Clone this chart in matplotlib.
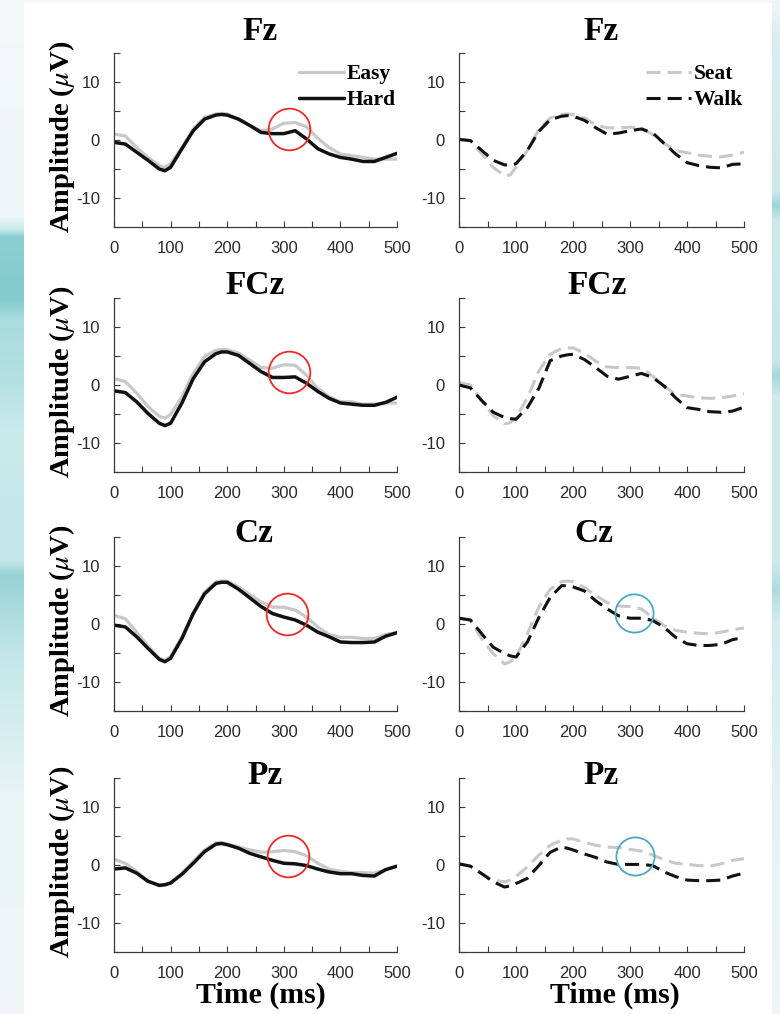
import numpy as np
import matplotlib
matplotlib.use("Agg")
import matplotlib.pyplot as plt
from matplotlib.colors import to_rgb

plt.rcParams["axes.unicode_minus"] = False
plt.rcParams["mathtext.fontset"] = "stix"

# ---------------------------------------------------------------- data
time_ms = [0, 20, 40, 60, 80, 90, 100, 120, 140, 160, 180, 190, 200, 220, 240,
           260, 280, 300, 320, 340, 360, 380, 400, 420, 440, 460, 480, 500]

channels = ["Fz", "FCz", "Cz", "Pz"]

# task difficulty (left column)
fz_easy = [1.0, 0.7, -1.3, -3.0, -4.4, -4.7, -4.1, -1.3, 1.9, 3.9, 4.5, 4.6, 4.5, 3.6,
           2.5, 1.6, 1.9, 2.9, 3.0, 2.3, 0.3, -1.3, -2.4, -2.7, -3.0, -3.3, -3.3, -3.3]
fz_hard = [-0.4, -0.7, -2.1, -3.5, -5.0, -5.3, -4.7, -1.5, 1.6, 3.6, 4.3, 4.4, 4.3, 3.6,
           2.5, 1.3, 1.1, 1.1, 1.6, 0.2, -1.5, -2.4, -3.0, -3.3, -3.7, -3.7, -3.0, -2.3]
fcz_easy = [1.1, 0.6, -1.4, -3.7, -5.4, -5.7, -5.1, -2.0, 2.0, 4.9, 6.0, 6.1, 6.1, 5.5,
            4.3, 3.0, 2.9, 3.5, 3.4, 1.7, -0.6, -2.0, -2.9, -2.9, -3.3, -3.3, -3.1, -3.1]
fcz_hard = [-1.0, -1.3, -2.9, -4.9, -6.6, -7.0, -6.6, -3.1, 1.1, 4.0, 5.4, 5.7, 5.7, 5.1,
            3.7, 2.3, 1.3, 1.3, 1.4, 0.3, -1.1, -2.3, -3.1, -3.3, -3.5, -3.5, -3.0, -2.1]
cz_easy = [1.5, 0.9, -1.4, -3.8, -5.9, -6.3, -5.6, -2.2, 2.0, 5.5, 7.3, 7.4, 7.4, 6.4,
           5.1, 3.8, 2.9, 2.9, 2.4, 1.2, -0.5, -1.8, -2.3, -2.3, -2.5, -2.5, -1.8, -1.5]
cz_hard = [-0.2, -0.5, -2.2, -4.2, -6.1, -6.5, -5.9, -2.5, 1.8, 5.2, 7.0, 7.2, 7.2, 6.0,
           4.5, 3.0, 1.8, 1.2, 0.7, -0.2, -1.4, -2.2, -3.1, -3.2, -3.2, -3.1, -2.1, -1.5]
pz_easy = [1.0, 0.3, -1.1, -2.8, -3.6, -3.5, -3.1, -1.4, 0.6, 2.6, 3.8, 3.9, 3.6, 3.1,
           2.6, 2.2, 2.3, 2.5, 2.3, 1.6, 0.3, -0.7, -1.1, -1.3, -1.3, -1.4, -0.8, -0.2]
pz_hard = [-0.7, -0.5, -1.4, -2.8, -3.5, -3.4, -3.1, -1.6, 0.3, 2.3, 3.6, 3.7, 3.5, 2.9,
           2.0, 1.4, 0.8, 0.3, 0.2, -0.1, -0.7, -1.2, -1.5, -1.5, -1.8, -1.9, -0.8, -0.2]

# walking condition (right column)
fz_seat = [0.1, -0.1, -2.4, -4.7, -6.2, -6.0, -4.7, -1.8, 1.8, 3.8, 4.4, 4.5, 4.4, 3.8,
           2.6, 2.1, 2.1, 2.2, 2.1, 0.9, -0.6, -1.8, -2.2, -2.6, -2.8, -2.9, -2.6, -2.1]
fz_walk = [0.1, -0.1, -1.8, -3.5, -4.3, -4.3, -4.1, -1.8, 1.5, 3.5, 4.1, 4.2, 4.1, 3.4,
           2.1, 1.0, 1.2, 1.6, 1.9, 1.2, -0.6, -2.4, -3.9, -4.4, -4.7, -4.8, -4.2, -4.1]
fcz_seat = [0.4, 0.0, -2.7, -5.3, -6.7, -6.5, -5.6, -2.2, 2.4, 5.3, 6.3, 6.4, 6.4, 5.5,
            4.1, 3.1, 3.0, 3.0, 2.9, 1.5, -0.2, -1.6, -1.9, -2.2, -2.3, -2.2, -1.9, -1.5]
fcz_walk = [0.0, -0.5, -2.7, -4.7, -5.6, -5.8, -5.9, -3.9, -0.6, 4.2, 5.0, 5.2, 5.3, 4.4,
            3.0, 1.5, 1.0, 1.5, 2.0, 1.3, -0.2, -2.2, -3.9, -4.2, -4.6, -4.7, -4.5, -3.8]
cz_seat = [1.0, 0.6, -2.6, -5.1, -6.9, -6.5, -5.7, -1.7, 2.9, 6.0, 7.3, 7.4, 7.3, 6.3,
           4.9, 3.7, 3.1, 3.0, 2.6, 1.1, -0.3, -1.1, -1.4, -1.6, -1.7, -1.4, -1.0, -0.7]
cz_walk = [1.0, 0.7, -1.7, -4.0, -5.1, -5.5, -5.7, -3.1, 1.1, 4.6, 6.6, 6.6, 6.4, 5.7,
           4.0, 2.6, 1.4, 1.0, 1.0, 0.6, -0.6, -2.3, -3.4, -3.7, -3.7, -3.5, -2.7, -2.3]
pz_seat = [0.2, -0.2, -1.5, -2.6, -2.9, -2.6, -2.0, -0.3, 1.7, 3.4, 4.3, 4.5, 4.5, 3.9,
           3.4, 3.1, 3.0, 2.7, 2.4, 1.7, 0.9, 0.3, 0.1, -0.1, -0.2, 0.2, 0.8, 1.1]
pz_walk = [0.2, -0.2, -1.5, -2.9, -3.8, -3.6, -3.2, -2.3, -0.1, 2.2, 3.1, 2.9, 2.6, 1.9,
           1.3, 0.5, 0.1, 0.1, 0.1, -0.1, -1.2, -2.0, -2.6, -2.7, -2.7, -2.6, -1.9, -1.4]

difficulty = {"Fz": (fz_easy, fz_hard), "FCz": (fcz_easy, fcz_hard),
              "Cz": (cz_easy, cz_hard), "Pz": (pz_easy, pz_hard)}
walking = {"Fz": (fz_seat, fz_walk), "FCz": (fcz_seat, fcz_walk),
           "Cz": (cz_seat, cz_walk), "Pz": (pz_seat, pz_walk)}

# highlighted effects around 300 ms: (time, amplitude)
difficulty_marks = {"Fz": (309, 1.9), "FCz": (309, 2.3), "Cz": (306, 1.65), "Pz": (307, 1.5)}
walking_marks = {"Cz": (307, 1.9), "Pz": (309, 1.6)}

x_ticks = [0, 100, 200, 300, 400, 500]
y_ticks = [-10, 0, 10]

# ---------------------------------------------------------------- style
SERIF = "Liberation Serif"
SANS = "Liberation Sans"
GRAY = "#c8c8c8"
BLACK = "#111111"
AXIS = "#3a3a3a"
DASH = (0, (4.6, 2.3))

W, H = 780, 1014
fig = plt.figure(figsize=(W / 100, H / 100), dpi=100)

# decorative backdrop: teal washes along the edges, white sheet in the middle
def profile(stops, n):
    ys = np.array([s[0] for s in stops], float)
    cols = np.array([to_rgb(s[1]) for s in stops])
    yy = np.arange(n)
    return np.stack([np.interp(yy, ys, cols[:, k]) for k in range(3)], axis=1)

left_stops = [(0, "#f3f8f9"), (215, "#eef6f7"), (228, "#cfeced"), (236, "#8ccfd3"),
              (300, "#84cacf"), (318, "#a8dcdf"), (385, "#b6e1e3"), (430, "#cbeaec"),
              (560, "#c3e6e8"), (575, "#97d2d6"), (600, "#a6d9dc"), (660, "#c6e7e9"),
              (720, "#d3edef"), (800, "#e9f4f5"), (1014, "#f1f7f8")]
right_stops = [(0, "#eef6f7"), (40, "#d8eef0"), (190, "#cfeaec"), (205, "#9dd5d8"),
               (220, "#cde9eb"), (360, "#c8e7e9"), (375, "#a3d7da"), (395, "#cfeaec"),
               (560, "#cfeaec"), (590, "#aedcdf"), (620, "#d3ecee"), (800, "#e4f2f3"),
               (1014, "#eef6f7")]
bg_img = np.ones((H, W, 3))
bg_img[:, :24, :] = profile(left_stops, H)[:, None, :]
bg_img[:, 772:, :] = profile(right_stops, H)[:, None, :]
bg_img[:3, 24:772, :] = to_rgb("#f2f7f8")
bg = fig.add_axes([0, 0, 1, 1], zorder=-10)
bg.imshow(bg_img, aspect="auto", extent=(0, 1, 0, 1), interpolation="bilinear")
bg.set_axis_off()

# axes grid (figure-pixel geometry)
col_left = [114, 459]
col_width = [283, 285]
row_top = [53, 298, 537, 778]
row_height = 174
# title centres in figure pixels, per row, for the two columns
title_y = [31, 286, 534, 776]
title_x = [[260, 601], [255, 597], [254, 594], [265, 601]]


def style_axes(ax):
    ax.set_xlim(0, 500)
    ax.set_ylim(-15, 15)
    for side in ("top", "right"):
        ax.spines[side].set_visible(False)
    for side in ("left", "bottom"):
        ax.spines[side].set_color(AXIS)
        ax.spines[side].set_linewidth(0.9)
    ax.set_xticks(x_ticks)
    ax.set_xticks(range(0, 501, 50), minor=True)
    ax.set_yticks(y_ticks)
    ax.set_yticks(range(-15, 16, 5), minor=True)
    ax.tick_params(which="both", direction="in", length=4, width=0.8, color=AXIS)
    ax.tick_params(axis="x", which="major", pad=10, labelsize=12, labelcolor="#2a2a2a")
    ax.tick_params(axis="y", which="major", pad=10, labelsize=12, labelcolor="#2a2a2a")
    for lab in ax.get_xticklabels() + ax.get_yticklabels():
        lab.set_fontfamily(SANS)
    ax.set_facecolor("none")


for r, ch in enumerate(channels):
    for c in range(2):
        x0 = col_left[c] / W
        y0 = 1 - (row_top[r] + row_height) / H
        ax = fig.add_axes([x0, y0, col_width[c] / W, row_height / H])
        style_axes(ax)
        tx = (title_x[r][c] - col_left[c]) / col_width[c]
        ty = (row_top[r] + row_height - title_y[r]) / row_height
        ax.text(tx, ty, ch, transform=ax.transAxes, ha="center", va="center",
                fontsize=24, fontweight="bold", fontfamily=SERIF)

        if c == 0:
            easy, hard = difficulty[ch]
            l1, = ax.plot(time_ms, easy, color=GRAY, lw=2.3, solid_joinstyle="round",
                          solid_capstyle="round", label="Easy")
            l2, = ax.plot(time_ms, hard, color=BLACK, lw=2.5, solid_joinstyle="round",
                          solid_capstyle="round", label="Hard")
            mark = difficulty_marks.get(ch)
            ring_color, ring_size = "#f02828", 30
            ax.set_ylabel(r"Amplitude ($\mu$V)", fontsize=20.5, fontweight="bold",
                          fontfamily=SERIF)
            ax.yaxis.set_label_coords(-0.13, 0.52)
        else:
            seat, walk = walking[ch]
            l1, = ax.plot(time_ms, seat, color=GRAY, lw=2.2, linestyle=DASH,
                          dash_joinstyle="round", label="Seat")
            l2, = ax.plot(time_ms, walk, color=BLACK, lw=2.2, linestyle=DASH,
                          dash_joinstyle="round", label="Walk")
            mark = walking_marks.get(ch)
            ring_color, ring_size = "#4aaac6", 27.5

        if mark is not None:
            ax.plot([mark[0]], [mark[1]], marker="o", markersize=ring_size,
                    markerfacecolor="none", markeredgecolor=ring_color,
                    markeredgewidth=1.3, linestyle="none", zorder=5)

        if r == 0:
            ax.legend(handles=[l1, l2], loc="upper right",
                      bbox_to_anchor=(0.995, 0.935), frameon=False,
                      borderpad=0, borderaxespad=0, handlelength=2.1,
                      handletextpad=0.1, labelspacing=0.28,
                      prop={"family": SERIF, "weight": "bold", "size": 15.5})

        if r == len(channels) - 1:
            ax.set_xlabel("Time (ms)", fontsize=21.5, fontweight="bold", fontfamily=SERIF)
            ax.xaxis.set_label_coords(0.52 if c == 0 else 0.547, -0.17)

fig.savefig("out.png", dpi=100)
